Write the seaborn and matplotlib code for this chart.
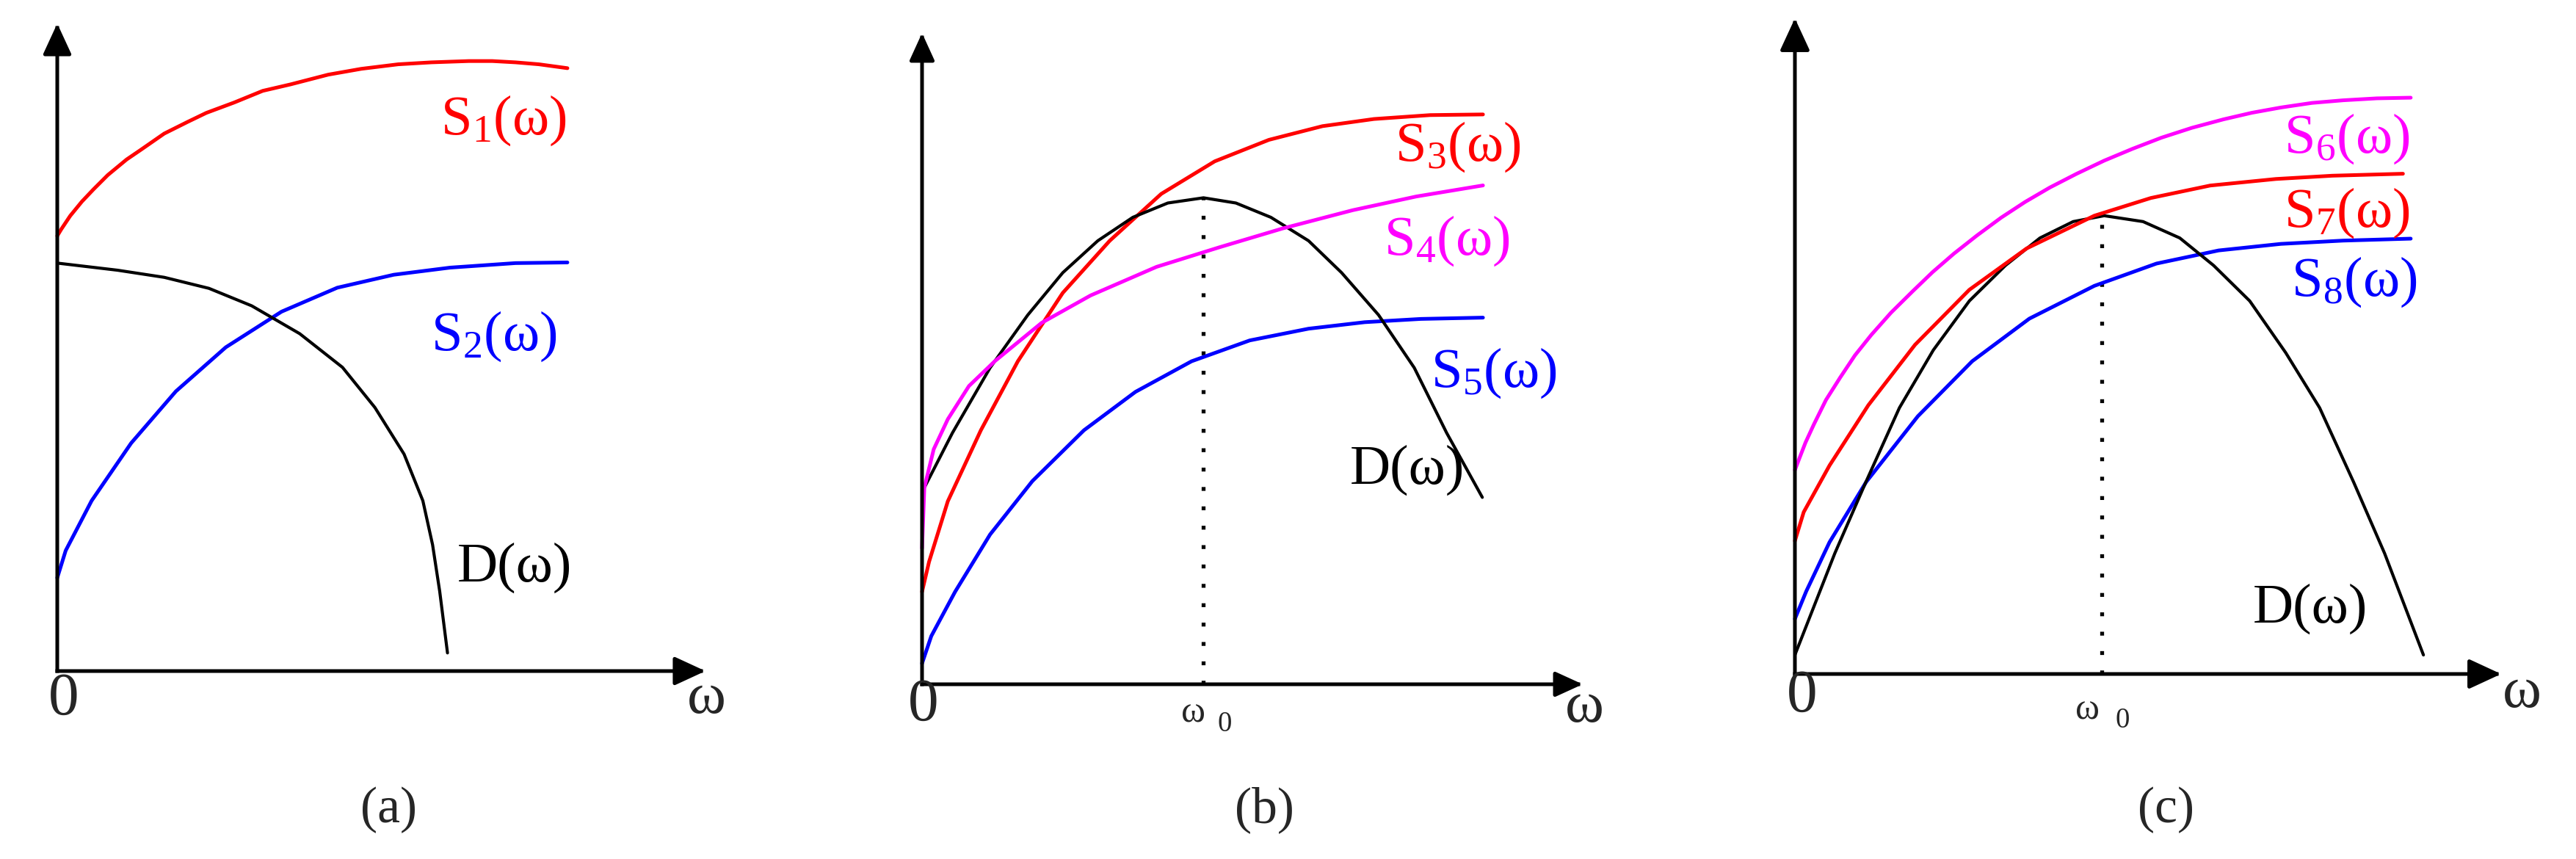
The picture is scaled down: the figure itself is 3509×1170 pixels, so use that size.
import matplotlib
matplotlib.use('Agg')
import matplotlib.pyplot as plt
import seaborn as sns
import pandas as pd

sns.set_style('white')
plt.rcParams['font.family'] = ['Liberation Serif', 'DejaVu Serif']
plt.rcParams['mathtext.fontset'] = 'custom'
plt.rcParams['mathtext.rm'] = 'Liberation Serif'
plt.rcParams['mathtext.it'] = 'Liberation Serif:italic'

# all curves in percent of the axis length (100 = arrow tip)
# panel (a)
a_s1_x = [0, 0.6, 2.0, 3.8, 5.6, 7.8, 10.7, 12.9, 16.5, 20.1, 23.0, 27.3, 31.7, 36.0, 41.8,
          46.9, 52.6, 57.7, 63.5, 67.1, 70.7, 74.3, 78.7]
a_s1_y = [67.2, 68.2, 70.3, 72.5, 74.4, 76.6, 79.0, 80.5, 83.0, 84.8, 86.2, 87.8, 89.6, 90.6, 92.1,
          93.0, 93.7, 94.0, 94.2, 94.2, 94.0, 93.7, 93.1]
a_s2_x = [0, 1.3, 5.3, 11.4, 18.3, 26.0, 34.6, 43.2, 51.9, 60.6, 70.7, 78.7]
a_s2_y = [14.4, 18.6, 26.3, 35.2, 43.2, 50.0, 55.5, 59.2, 61.2, 62.3, 63.0, 63.1]
a_d_x = [0, 9.3, 16.5, 23.4, 30.0, 37.4, 44.0, 49.0, 53.5, 56.4, 57.9, 59.0, 60.2]
a_d_y = [63.0, 61.9, 60.8, 59.1, 56.4, 52.1, 46.9, 40.7, 33.5, 26.3, 19.5, 12.3, 2.8]

# panel (b)
b_s3_x = [0, 1.06, 3.9, 8.9, 14.5, 21.3, 28.4, 36.2, 44.3, 52.5, 60.6, 68.4, 76.9, 84.9]
b_s3_y = [14.2, 18.8, 28.1, 39.0, 49.6, 60.1, 68.1, 75.3, 80.3, 83.6, 85.7, 86.8, 87.4, 87.5]
b_s4_x = [0, 0.35, 1.77, 3.9, 7.1, 11.0, 18.1, 25.5, 35.5, 45.0, 54.6, 65.2, 74.8, 84.9]
b_s4_y = [20.9, 30.2, 36.1, 40.7, 45.8, 49.6, 55.5, 59.7, 64.1, 67.1, 70.0, 72.8, 74.9, 76.6]
b_s5_x = [0, 1.4, 5.0, 10.3, 16.7, 24.5, 32.3, 40.8, 49.6, 58.5, 67.0, 75.5, 84.9]
b_s5_y = [3.2, 7.4, 14.2, 23.0, 31.2, 39.0, 44.9, 49.6, 52.8, 54.6, 55.6, 56.1, 56.3]
b_d_x = [0, 4.6, 10.3, 16.0, 21.3, 26.6, 31.9, 37.2, 42.6, 47.5, 52.8, 58.5, 63.5, 69.1, 74.5, 79.4, 84.8]
b_d_y = [29.5, 38.6, 48.6, 56.7, 63.2, 68.1, 71.7, 73.9, 74.7, 73.9, 71.7, 68.1, 63.2, 56.7, 48.6, 38.6, 28.7]
b_omega0 = 42.6

# panel (c)
c_s6_x = [0, 0.6, 1.5, 2.7, 4.4, 6.4, 8.5, 10.8, 13.6, 16.7, 19.5, 22.5, 25.8, 29.2, 32.6, 36.1,
          39.9, 43.8, 47.8, 51.9, 56.2, 60.7, 64.7, 68.8, 73.2, 77.6, 82.4, 87.2]
c_s6_y = [31.1, 32.8, 35.3, 38.1, 41.8, 45.2, 48.6, 51.7, 55.1, 58.4, 61.3, 64.1, 66.9, 69.6, 72.0, 74.2,
          76.3, 78.3, 80.1, 81.8, 83.3, 84.6, 85.6, 86.4, 87.1, 87.5, 87.8, 87.9]
c_s7_x = [0, 1.25, 4.9, 10.4, 17.0, 24.7, 32.8, 42.4, 50.4, 58.8, 68.1, 76.1, 86.1]
c_s7_y = [20.3, 24.7, 31.8, 41.0, 50.2, 58.6, 64.9, 69.9, 72.6, 74.5, 75.5, 76.0, 76.3]
c_s8_x = [0, 1.6, 4.9, 10.1, 17.4, 25.1, 33.2, 42.4, 51.2, 60.0, 68.8, 77.6, 87.2]
c_s8_y = [8.4, 12.6, 20.1, 29.3, 39.3, 47.7, 54.2, 59.2, 62.6, 64.6, 65.6, 66.1, 66.4]
c_d_x = [0, 5.65, 10.06, 14.8, 19.6, 24.7, 29.8, 34.7, 39.4, 43.8, 49.3, 54.5, 59.3, 64.4, 69.5, 74.3, 79.1, 83.5, 89.0]
c_d_y = [2.9, 18.4, 29.3, 40.6, 49.4, 56.9, 62.3, 66.5, 69.0, 69.9, 69.0, 66.5, 62.3, 56.9, 49.0, 40.6, 29.3, 18.4, 2.9]
c_omega0 = 43.5

RED, BLUE, MAG, BLK = '#ff0000', '#0000ff', '#ff00ff', '#000000'

W, H = 3509, 1170
fig = plt.figure(figsize=(W / 100, H / 100), dpi=100)


def make_axes(x0, y0, x1, y1):
    # x0,y0 = origin pixel, x1 = x arrow tip, y1 = y arrow tip (pixels from top)
    ax = fig.add_axes([x0 / W, 1 - y0 / H, (x1 - x0) / W, (y0 - y1) / H])
    ax.set_xlim(0, 100)
    ax.set_ylim(0, 100)
    ax.axis('off')
    return ax


def draw_arrows(ax, hl, hw):
    for tip in [(1, 0), (0, 1)]:
        ax.annotate('', xy=tip, xytext=(0, 0), xycoords='axes fraction',
                    arrowprops=dict(arrowstyle=f'-|>,head_length={hl},head_width={hw}',
                                    lw=3.6, color='k', shrinkA=0, shrinkB=0,
                                    mutation_scale=10, capstyle='projecting'))


def curve(ax, x, y, color, lw=3.6):
    df = pd.DataFrame({'w': x, 'v': y})
    sns.lineplot(data=df, x='w', y='v', ax=ax, color=color, lw=lw,
                 sort=False, estimator=None, clip_on=False)


def label(ax, x, y, s, color, fs=55):
    ax.text(x, y, s, color=color, fontsize=fs, ha='left', va='center', clip_on=False)


def axis_text(ax, zx, zy, wx, wy):
    ax.text(zx, zy, '0', fontsize=60, ha='center', va='center', clip_on=False)
    ax.text(wx, wy, 'ω', fontsize=58, ha='center', va='center', clip_on=False)


def omega0_mark(ax, w0, d_y, dy1, dy2, dx1, dx2):
    ax.vlines(w0, 0, max(d_y), colors='k', lw=3.8, linestyles=[(0, (1, 4.0))])
    ax.text(w0 + dx1, dy1, 'ω', fontsize=36, ha='center', va='center', clip_on=False)
    ax.text(w0 + dx2, dy2, '0', fontsize=28, ha='center', va='center', clip_on=False)


# (a)
ax = make_axes(78, 914, 961, 32)
draw_arrows(ax, 2.6, 1.2)
curve(ax, a_s1_x, a_s1_y, RED)
curve(ax, a_s2_x, a_s2_y, BLUE)
curve(ax, a_d_x, a_d_y, BLK, lw=3.0)
label(ax, 59.1, 85.0, r'S$_\mathrm{1}$(ω)', RED)
label(ax, 57.7, 51.7, r'S$_\mathrm{2}$(ω)', BLUE)
label(ax, 61.7, 15.9, 'D(ω)', BLK)
axis_text(ax, 1.0, -4.4, 100.1, -4.3)

# (b)
ax = make_axes(1256, 932, 2156, 45)
draw_arrows(ax, 2.3, 1.05)
omega0_mark(ax, b_omega0, b_d_y, -4.4, -6.2, -1.5, 3.2)
curve(ax, b_s3_x, b_s3_y, RED)
curve(ax, b_s5_x, b_s5_y, BLUE)
curve(ax, b_d_x, b_d_y, BLK, lw=3.0)
curve(ax, b_s4_x, b_s4_y, MAG)
label(ax, 71.6, 82.5, r'S$_\mathrm{3}$(ω)', RED)
label(ax, 69.9, 68.1, r'S$_\mathrm{4}$(ω)', MAG)
label(ax, 77.0, 47.8, r'S$_\mathrm{5}$(ω)', BLUE)
label(ax, 64.8, 32.9, 'D(ω)', BLK)
axis_text(ax, 0.2, -3.3, 100.3, -3.5)

# (c)
ax = make_axes(2445, 918, 3407, 25)
draw_arrows(ax, 2.7, 1.25)
omega0_mark(ax, c_omega0, c_d_y, -5.5, -7.1, -2.1, 2.9)
curve(ax, c_s6_x, c_s6_y, MAG)
curve(ax, c_s8_x, c_s8_y, BLUE)
curve(ax, c_d_x, c_d_y, BLK, lw=3.0)
curve(ax, c_s7_x, c_s7_y, RED)
label(ax, 69.2, 81.6, r'S$_\mathrm{6}$(ω)', MAG)
label(ax, 69.2, 70.3, r'S$_\mathrm{7}$(ω)', RED)
label(ax, 70.3, 59.8, r'S$_\mathrm{8}$(ω)', BLUE)
label(ax, 64.8, 9.9, 'D(ω)', BLK)
axis_text(ax, 1.0, -3.5, 103.0, -2.9)

# sub-figure captions
for cx, cap in [(530, '(a)'), (1722, '(b)'), (2950, '(c)')]:
    fig.text(cx / W, 1 - 1103 / H, cap, fontsize=50, ha='center', va='center')

fig.savefig('out.png', dpi=100)
